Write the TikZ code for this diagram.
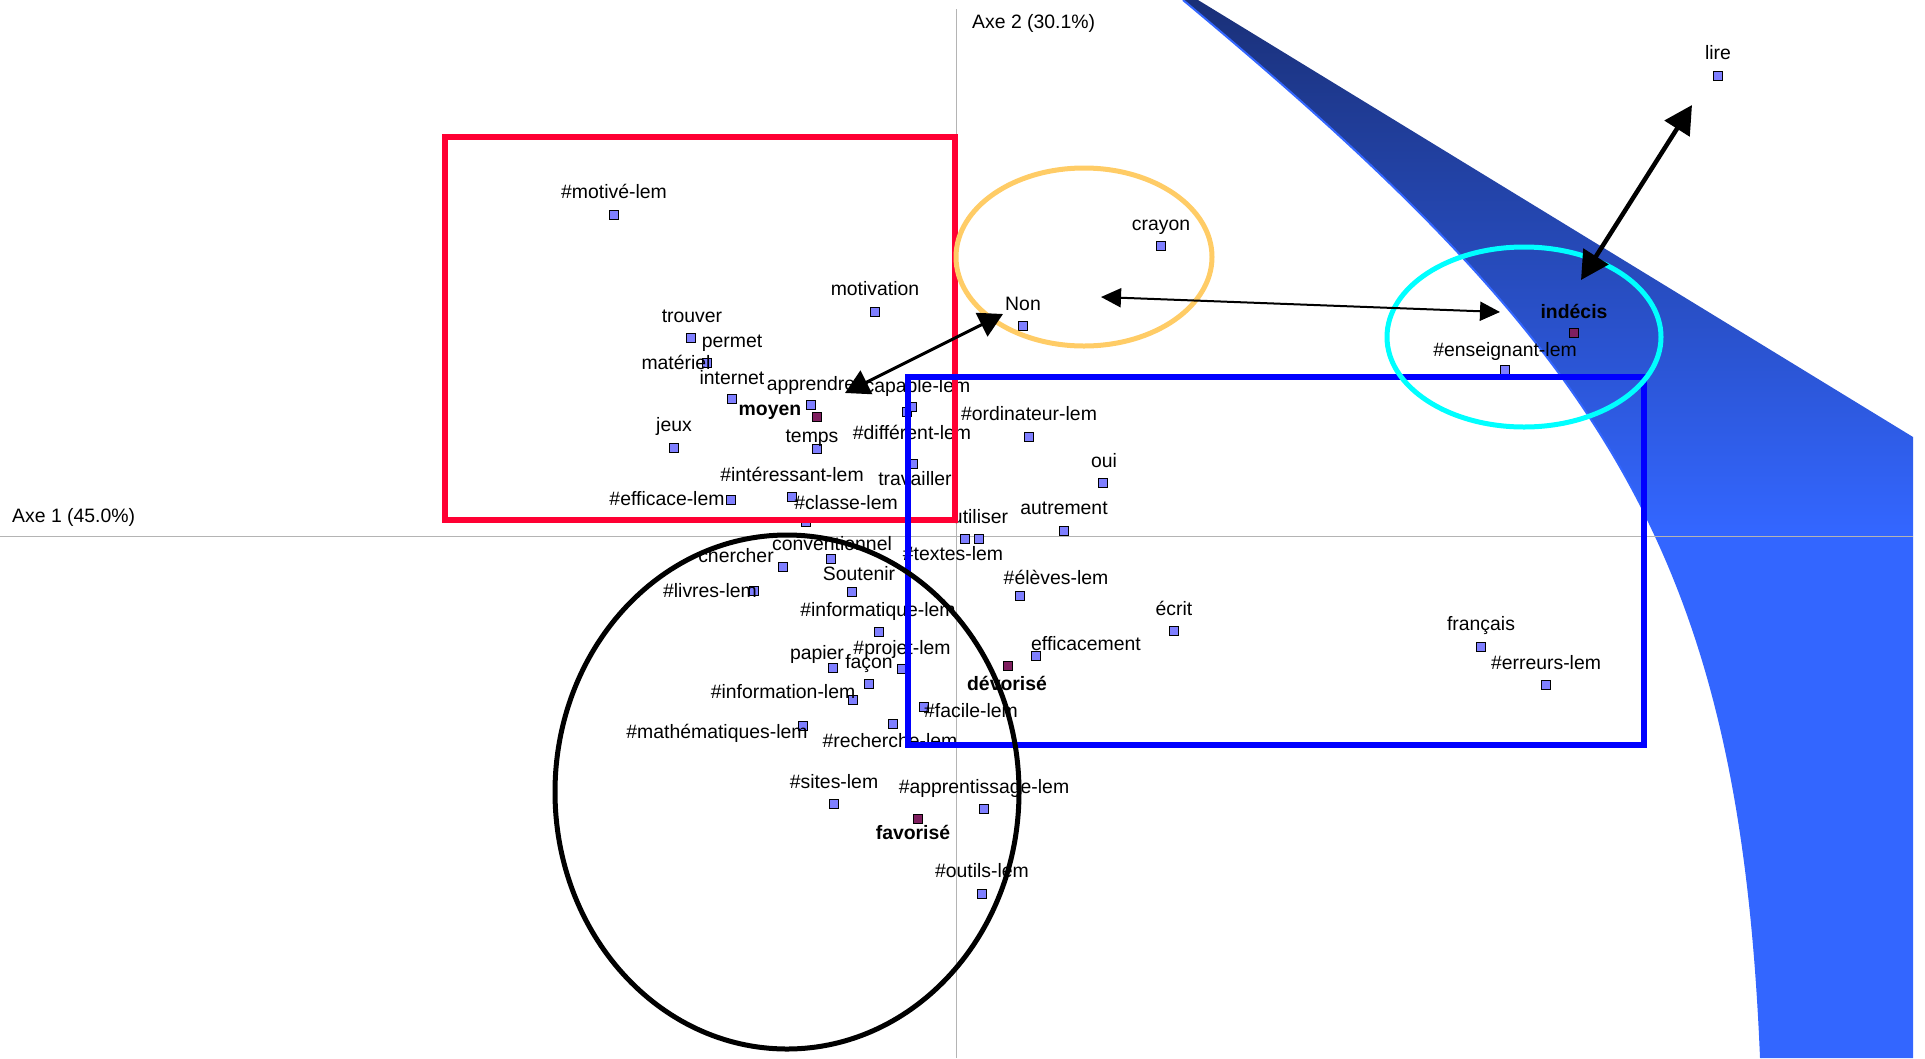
\documentclass[tikz,border=0pt]{standalone}
\usepackage{fontspec}
\setmainfont{Liberation Sans}
\usetikzlibrary{arrows.meta,positioning}
\definecolor{ptblue}{HTML}{7F7FFF}
\definecolor{ptcat}{HTML}{7F1F5F}
\definecolor{axisgray}{HTML}{B4B4B4}
\definecolor{boxred}{HTML}{FF0033}
\definecolor{boxblue}{HTML}{0000FF}
\definecolor{ringorange}{HTML}{FFCC66}
\definecolor{ringcyan}{HTML}{00FFFF}
\definecolor{bandtop}{HTML}{1A3078}
\definecolor{bandlow}{HTML}{3366FF}

\begin{document}
\begin{tikzpicture}[
  x=1pt, y=-1pt,
  font=\fontsize{19.4}{23}\selectfont,
  wordpt/.style={draw=black, line width=1.5pt, fill=ptblue, minimum size=9pt, inner sep=0pt},
  grouppt/.style={wordpt, fill=ptcat},
  lbl/.style={anchor=base, inner sep=0pt},
  grouplbl/.style={lbl, font=\fontsize{19.4}{23}\selectfont\bfseries},
  axisline/.style={draw=axisgray, line width=1pt},
  zonebox/.style={line width=6pt},
  ringline/.style={line width=5pt},
  dlink/.style={draw=black, line width=3pt, {Triangle[length=24pt,width=26pt]}-{Triangle[length=24pt,width=26pt]}},
  thinlink/.style={draw=black, line width=2pt, {Triangle[length=20pt,width=19pt]}-{Triangle[length=20pt,width=19pt]}},
  boldlink/.style={draw=black, line width=4.5pt, {Triangle[length=28pt,width=29pt]}-{Triangle[length=28pt,width=29pt]}}
]
\useasboundingbox (0,0) rectangle (1925,1058);

% ---- band ----
\path[top color=bandtop, bottom color=bandlow, middle color=bandlow]
  (1183,0) .. controls (1603,350) and (1740,550) .. (1761,1058)
  -- (1913,1058) -- (1913,437) -- (1198,0) -- cycle;
\draw[bandlow, line width=2pt]
  (1183,0) .. controls (1603,350) and (1740,550) .. (1761,1058);

% ---- axes ----
\draw[axisline] (0,536) -- (1913,536);
\draw[axisline] (956,9) -- (956,1058);
\node[lbl, anchor=base west] (axe1) at (12,522) {Axe 1 (45.0\%)};
\node[lbl, anchor=base west] (axe2) at (972,28) {Axe 2 (30.1\%)};

% ---- points ----
\node[wordpt] (motive) at (614,215) {};
\node[wordpt] (motivation) at (875,312) {};
\node[wordpt] (trouver) at (691,338) {};
\node[wordpt] (materiel) at (707,363) {};
\node[wordpt] (internet) at (732,399) {};
\node[wordpt] (apprendre) at (811,405) {};
\node[grouppt] (moyen) at (817,417) {};
\node[wordpt] (jeux) at (674,448) {};
\node[wordpt] (temps) at (817,449) {};
\node[wordpt] (different) at (907,412) {};
\node[wordpt] (capable) at (912,407) {};
\node[wordpt] (travailler) at (913,464) {};
\node[wordpt] (efficace) at (731,500) {};
\node[wordpt] (interessant) at (792,497) {};
\node[wordpt] (classe) at (806,522) {};
\node[wordpt] (ordinateur) at (1029,437) {};
\node[wordpt] (oui) at (1103,483) {};
\node[wordpt] (autrement) at (1064,531) {};
\node[wordpt] (utiliser) at (965,539) {};
\node[wordpt] (textes) at (979,539) {};
\node[wordpt] (conventionnel) at (831,559) {};
\node[wordpt] (chercher) at (783,567) {};
\node[wordpt] (livres) at (754,591) {};
\node[wordpt] (soutenir) at (852,592) {};
\node[wordpt] (eleves) at (1020,596) {};
\node[wordpt] (informatique) at (879,632) {};
\node[wordpt] (efficacement) at (1036,656) {};
\node[grouppt] (devorise) at (1008,666) {};
\node[wordpt] (papier) at (833,668) {};
\node[wordpt] (projet) at (902,669) {};
\node[wordpt] (facon) at (869,684) {};
\node[wordpt] (information) at (853,700) {};
\node[wordpt] (facile) at (924,707) {};
\node[wordpt] (mathematiques) at (803,726) {};
\node[wordpt] (recherche) at (893,724) {};
\node[wordpt] (sites) at (834,804) {};
\node[wordpt] (apprentissage) at (984,809) {};
\node[grouppt] (favorise) at (918,819) {};
\node[wordpt] (outils) at (982,894) {};
\node[wordpt] (crayon) at (1161,246) {};
\node[wordpt] (non) at (1023,326) {};
\node[wordpt] (lire) at (1718,76) {};
\node[grouppt] (indecis) at (1574,333) {};
\node[wordpt] (enseignant) at (1505,370) {};
\node[wordpt] (ecrit) at (1174,631) {};
\node[wordpt] (francais) at (1481,647) {};
\node[wordpt] (erreurs) at (1546,685) {};

% ---- labels ----
\node[lbl] (motiveL) at (614,198) {\#motivé-lem};
\node[lbl] (motivationL) at (875,295) {motivation};
\node[lbl] (trouverL) at (692,322) {trouver};
\node[lbl] (permetL) at (732,347) {permet};
\node[lbl] (materielL) at (676,369) {matériel};
\node[lbl] (internetL) at (732,384) {internet};
\node[lbl] (apprendreL) at (811,390) {apprendre};
\node[lbl] (capableL) at (912,392) {\#capable-lem};
\node[grouplbl] (moyenL) at (770,415) {moyen};
\node[lbl] (jeuxL) at (674,431) {jeux};
\node[lbl] (tempsL) at (812,442) {temps};
\node[lbl] (differentL) at (912,439) {\#différent-lem};
\node[lbl] (ordinateurL) at (1029,420) {\#ordinateur-lem};
\node[lbl] (ouiL) at (1104,467) {oui};
\node[lbl] (travaillerL) at (915,485) {travailler};
\node[lbl] (interessantL) at (792,481) {\#intéressant-lem};
\node[lbl] (autrementL) at (1064,514) {autrement};
\node[lbl] (efficaceL) at (667,505) {\#efficace-lem};
\node[lbl] (classeL) at (846,509) {\#classe-lem};
\node[lbl] (utiliserL) at (980,523) {utiliser};
\node[lbl] (conventionnelL) at (832,550) {conventionnel};
\node[lbl] (chercherL) at (736,562) {chercher};
\node[lbl] (textesL) at (953,560) {\#textes-lem};
\node[lbl] (soutenirL) at (859,580) {Soutenir};
\node[lbl] (elevesL) at (1056,584) {\#élèves-lem};
\node[lbl] (livresL) at (710,597) {\#livres-lem};
\node[lbl] (informatiqueL) at (878,616) {\#informatique-lem};
\node[lbl] (ecritL) at (1174,615) {écrit};
\node[lbl] (francaisL) at (1481,630) {français};
\node[lbl] (efficacementL) at (1086,650) {efficacement};
\node[lbl] (papierL) at (817,659) {papier};
\node[lbl] (projetL) at (902,654) {\#projet-lem};
\node[lbl] (faconL) at (869,668) {façon};
\node[lbl] (erreursL) at (1546,669) {\#erreurs-lem};
\node[grouplbl] (devoriseL) at (1007,690) {dévorisé};
\node[lbl] (informationL) at (783,698) {\#information-lem};
\node[lbl] (facileL) at (971,717) {\#facile-lem};
\node[lbl] (mathematiquesL) at (717,738) {\#mathématiques-lem};
\node[lbl] (rechercheL) at (890,747) {\#recherche-lem};
\node[lbl] (sitesL) at (834,788) {\#sites-lem};
\node[lbl] (apprentissageL) at (984,793) {\#apprentissage-lem};
\node[grouplbl] (favoriseL) at (913,839) {favorisé};
\node[lbl] (outilsL) at (982,877) {\#outils-lem};
\node[lbl] (crayonL) at (1161,230) {crayon};
\node[lbl] (nonL) at (1023,310) {Non};
\node[lbl] (lireL) at (1718,59) {lire};
\node[grouplbl] (indecisL) at (1574,318) {indécis};
\node[lbl] (enseignantL) at (1505,356) {\#enseignant-lem};

% ---- zones ----
\draw[zonebox, boxred] (445,137) rectangle (955,520);
\draw[zonebox, boxblue] (908,377) rectangle (1644,745);
\draw[ringline, ringorange] (1084,257) ellipse [x radius=128, y radius=89];
\draw[ringline, ringcyan] (1524,337) ellipse [x radius=137, y radius=90];
\draw[ringline, black] (787,792) ellipse [x radius=232, y radius=257];

% ---- arrows ----
\coordinate (a1) at (845,393);
\coordinate (a2) at (1003,314);
\coordinate (b1) at (1101,297);
\coordinate (b2) at (1500,312);
\coordinate (c1) at (1692,105);
\coordinate (c2) at (1581,280);
\draw[dlink] (a1) -- (a2);
\draw[thinlink] (b1) -- (b2);
\draw[boldlink] (c1) -- (c2);

\end{tikzpicture}
\end{document}
